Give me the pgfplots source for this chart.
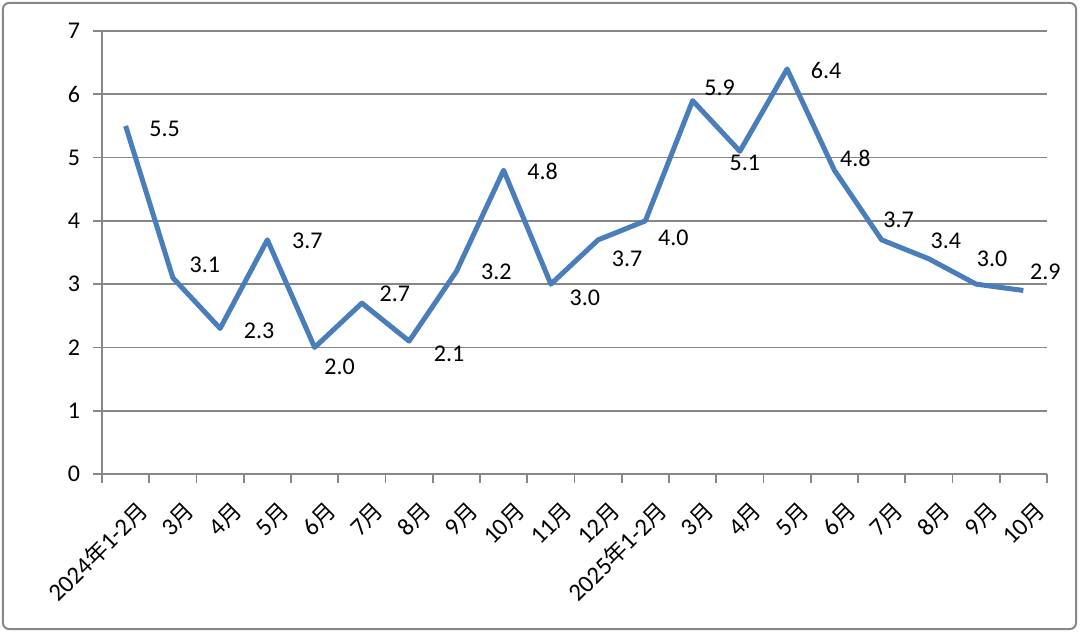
\documentclass[border=0pt]{standalone}
\usepackage{pgfplots}
\pgfplotsset{compat=1.18}
\usepackage{pgfplotstable}
\usepackage{fontspec}
\setmainfont{Carlito}
\newfontfamily\cjk{Noto Sans CJK SC}[Scale=0.92]
\newcommand{\yue}{{\cjk 月}}
\newcommand{\nian}{{\cjk 年}}
\definecolor{lineblue}{HTML}{4A7EBB}
\definecolor{gridgray}{HTML}{878787}
\pgfplotstableread{
x y dx dy
0.5 5.5 19.5 -1.5
1.5 3.1 16 6.5
2.5 2.3 19.5 -1
3.5 3.7 20 -0.5
4.5 2.0 12.5 -9.5
5.5 2.7 16.5 4.5
6.5 2.1 20 -6.5
7.5 3.2 20 0
8.5 4.8 19.5 -0.5
9.5 3.0 17 -7
10.5 3.7 14.5 -9.5
11.5 4.0 14 -8.5
12.5 5.9 13.5 6.5
13.5 5.1 2.5 -6
14.5 6.4 19.5 -1
15.5 4.8 10.5 6
16.5 3.7 8.5 10
17.5 3.4 8.5 9
18.5 3.0 8 12.5
19.5 2.9 11 9.5
}\datatable
\begin{document}
\begin{tikzpicture}
\useasboundingbox (-51pt,-79.5pt) rectangle (489pt,237pt);
\draw[gridgray, line width=1pt, rounded corners=3pt] (-49.5pt,-77.5pt) rectangle (487pt,235.5pt);
\begin{axis}[
  at={(0,0)}, anchor=south west,
  scale only axis,
  width=472.5pt, height=221.5pt,
  xmin=0, xmax=20, ymin=0, ymax=7,
  axis x line*=bottom, axis y line*=left,
  axis line style={gridgray, line width=0.8pt, -},
  xtick={0,...,20},
  x tick label as interval,
  xticklabels={2024\nian1-2\yue,3\yue,4\yue,5\yue,6\yue,7\yue,8\yue,9\yue,10\yue,11\yue,12\yue,2025\nian1-2\yue,3\yue,4\yue,5\yue,6\yue,7\yue,8\yue,9\yue,10\yue},
  xticklabel style={rotate=45, anchor=east, font=\fontsize{12.3}{14}\selectfont, inner sep=1pt, xshift=-1pt, yshift=-14.5pt},
  ytick={0,...,7},
  yticklabel style={font=\fontsize{12}{14}\selectfont, xshift=-3pt},
  /pgf/number format/assume math mode=true,
  ymajorgrids,
  grid style={gridgray, line width=0.8pt},
  tick align=outside,
  major tick length=4.5pt,
  tick style={gridgray, line width=0.8pt},
  clip=false,
]
\addplot[lineblue, line width=2.5pt, line join=round,
  nodes near coords,
  point meta=explicit symbolic,
  visualization depends on={\thisrow{dx} \as \dx},
  visualization depends on={\thisrow{dy} \as \dy},
  nodes near coords style={anchor=center, xshift=\dx pt, yshift=\dy pt, font=\fontsize{12}{14}\selectfont, text=black},
] table[x=x, y=y, meta=y] {\datatable};
\end{axis}
\end{tikzpicture}
\end{document}
